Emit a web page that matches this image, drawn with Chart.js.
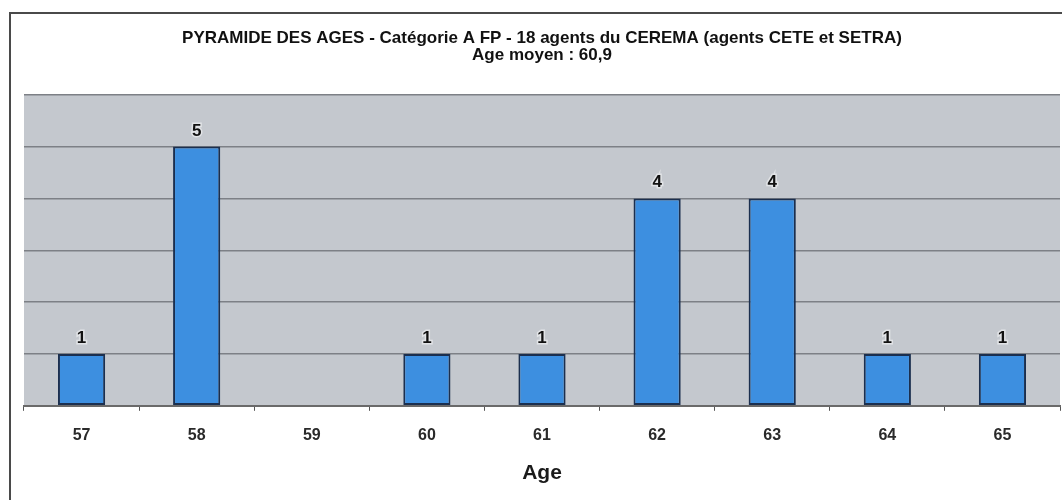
<!DOCTYPE html>
<html>
<head>
<meta charset="utf-8">
<script src="https://cdn.jsdelivr.net/npm/chart.js@4"></script>
<style>
  html, body { margin: 0; padding: 0; background: #ffffff; }
  #wrap { position: relative; width: 1062px; height: 500px; }
</style>
</head>
<body>
<div id="wrap"><canvas id="grafico" width="1062" height="500"></canvas></div>
<script>
const ages = ["57", "58", "59", "60", "61", "62", "63", "64", "65"];
const effectifs = [1, 5, 0, 1, 1, 4, 4, 1, 1];
const titre = [
  "PYRAMIDE DES AGES - Catégorie A FP - 18 agents du CEREMA (agents CETE et SETRA)",
  "Age moyen : 60,9"
];
const police = "'Liberation Sans', Arial, sans-serif";

// Fond gris de la zone de tracé + cadre autour du graphique
const fondPlugin = {
  id: "fond",
  beforeDraw(chart) {
    const { ctx, chartArea } = chart;
    ctx.save();
    ctx.fillStyle = "#c4c8ce";
    ctx.fillRect(chartArea.left, chartArea.top, chartArea.right - chartArea.left, chartArea.bottom - chartArea.top);
    // cadre
    ctx.strokeStyle = "#4a4a4a";
    ctx.lineWidth = 2;
    ctx.beginPath();
    ctx.moveTo(10, 500);
    ctx.lineTo(10, 13);
    ctx.lineTo(1062, 13);
    ctx.stroke();
    ctx.restore();
  }
};

// Valeurs au-dessus des barres
const etiquettesPlugin = {
  id: "etiquettes",
  afterDatasetsDraw(chart) {
    const { ctx } = chart;
    const meta = chart.getDatasetMeta(0);
    ctx.save();
    ctx.font = "bold 17px " + police;
    ctx.textAlign = "center";
    ctx.textBaseline = "alphabetic";
    meta.data.forEach((bar, i) => {
      const v = effectifs[i];
      if (!v) return;
      ctx.lineWidth = 3;
      ctx.strokeStyle = "rgba(255,255,255,0.5)";
      ctx.strokeText(String(v), bar.x, bar.y - 11);
      ctx.fillStyle = "#111111";
      ctx.fillText(String(v), bar.x, bar.y - 11);
    });
    ctx.restore();
  }
};

const ctx = document.getElementById("grafico").getContext("2d");
const chart = new Chart(ctx, {
  type: "bar",
  data: {
    labels: ages,
    datasets: [
      {
        label: "Effectif",
        data: effectifs,
        backgroundColor: "#3d8fe0",
        borderColor: "#1b2f4f",
        borderWidth: 2,
        borderSkipped: false,
        barPercentage: 0.41,
        categoryPercentage: 1.0,
      },
    ],
  },
  options: {
    responsive: false,
    animation: false,
    devicePixelRatio: 1,
    layout: { padding: { left: 24, right: 2, top: 29, bottom: 14 } },
    plugins: {
      legend: { display: false },
      tooltip: { enabled: false },
      title: {
        display: true,
        text: titre,
        color: "#111111",
        font: { family: police, size: 17, weight: "bold", lineHeight: 1.05 },
        padding: { top: 0, bottom: 30 },
      },
    },
    scales: {
      x: {
        grid: {
          display: true,
          drawOnChartArea: false,
          drawTicks: true,
          tickLength: 5,
          color: "#555555",
        },
        border: { display: true, color: "#6a6a6a", width: 2 },
        ticks: {
          color: "#2a2a2a",
          font: { family: police, size: 16, weight: "bold", lineHeight: 1.0 },
          padding: 17,
        },
        title: {
          display: true,
          text: "Age",
          color: "#1a1a1a",
          font: { family: police, size: 21, weight: "bold" },
          padding: { top: 0, bottom: 0 },
        },
      },
      y: {
        beginAtZero: true,
        min: 0,
        max: 6,
        ticks: { display: false, stepSize: 1 },
        grid: { display: true, color: "#7d8086", lineWidth: 1.5, drawTicks: false },
        border: { display: false },
      },
    },
  },
  plugins: [fondPlugin, etiquettesPlugin],
});
</script>
</body>
</html>
